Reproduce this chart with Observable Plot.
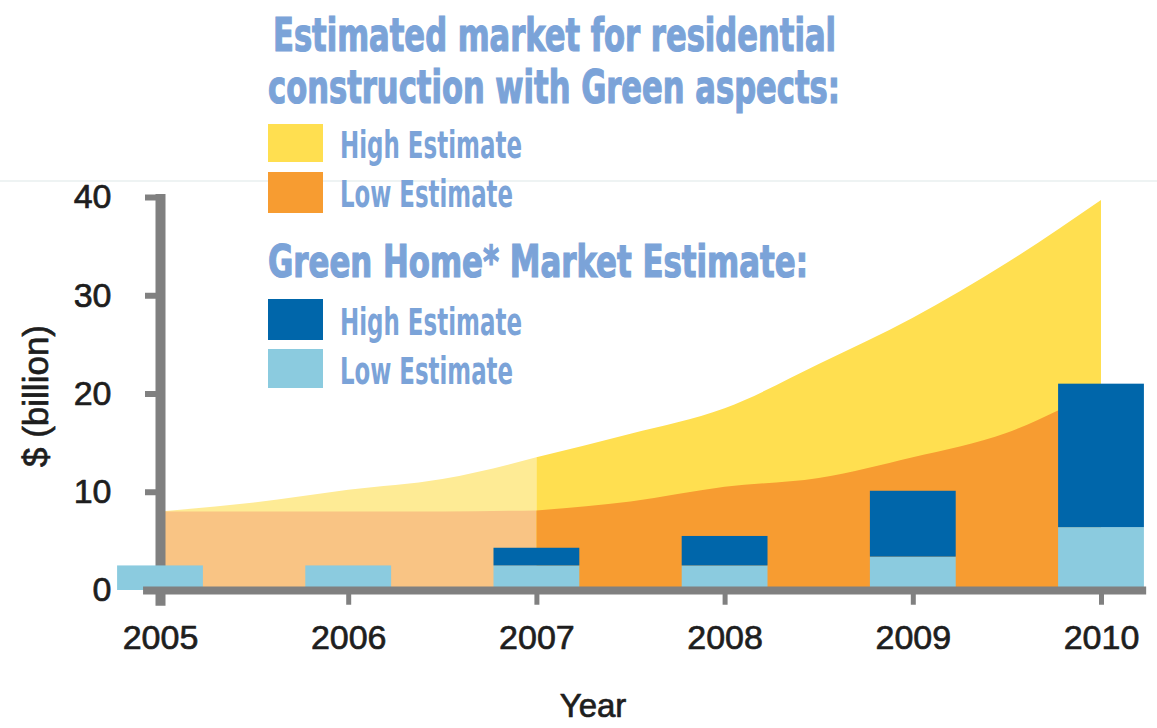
<!DOCTYPE html>
<html>
<head>
<meta charset="utf-8">
<script src="https://cdn.jsdelivr.net/npm/d3@7"></script>
<script src="https://cdn.jsdelivr.net/npm/@observablehq/plot@0.6"></script>
<style>
  body { margin: 0; background: #fff; }
  #wrap { position: relative; width: 1157px; height: 728px; overflow: hidden; }
  #chart { position: absolute; left: 0; top: 0; }
  .hline { position: absolute; left: 0; top: 180px; width: 1157px; height: 2px; background: #eef3f3; }
  .lg { position: absolute; font-family: "Liberation Sans Narrow", "DejaVu Sans Condensed", "Liberation Sans", sans-serif;
        color: #7ba3d8; line-height: 1; white-space: nowrap; transform-origin: 0 0; font-weight: bold; }
  .hd { font-size: 46px; -webkit-text-stroke: 1.2px #7ba3d8; }
  .it { font-size: 37px; }
  .sw { position: absolute; width: 55px; }
</style>
</head>
<body>
<div id="wrap">
  <div class="hline"></div>
  <div id="chart"></div>
  <div class="lg hd" data-w="563" style="left:273px; top:12px;">Estimated market for residential</div>
  <div class="lg hd" data-w="572" style="left:268px; top:64px;">construction with Green aspects:</div>
  <div class="sw" style="left:268px; top:124px; height:38px; background:#ffdf50;"></div>
  <div class="lg it" data-w="182" style="left:340px; top:127px;">High Estimate</div>
  <div class="sw" style="left:268px; top:172px; height:41px; background:#f79c31;"></div>
  <div class="lg it" data-w="173" style="left:340px; top:176px;">Low Estimate</div>
  <div class="lg hd" data-w="540" style="left:268px; top:239px; font-size:45px;">Green Home* Market Estimate:</div>
  <div class="sw" style="left:268px; top:299px; height:41px; background:#0066aa;"></div>
  <div class="lg it" data-w="182" style="left:340px; top:304px;">High Estimate</div>
  <div class="sw" style="left:268px; top:349px; height:39px; background:#8bcbdf;"></div>
  <div class="lg it" data-w="173" style="left:340px; top:353px;">Low Estimate</div>
</div>
<script>
// ---- data ----
const years = [2005, 2006, 2007, 2008, 2009, 2010];
const greenLow = [2.5, 2.5, 2.5, 2.5, 3.4, 6.4];
const greenHigh = [null, null, 4.3, 5.5, 10.1, 21.0];
const areaYears = [2005, 2005.5, 2006, 2006.5, 2007, 2007.5, 2008, 2008.5, 2009, 2009.5, 2010];
const resHigh = [8.0, 8.9, 10.2, 11.3, 13.5, 15.9, 18.5, 23.0, 27.7, 33.3, 39.7];
const resLow  = [8.0, 8.0, 8.0, 8.0, 8.1, 9.0, 10.5, 11.4, 13.5, 16.0, 20.5];
const yTicks = [0, 10, 20, 30, 40];
const xTicks = years;

// ---- tables ----
const area = areaYears.map((year, i) => ({year, high: resHigh[i], low: resLow[i]}));
const areaEarly = area.filter(d => d.year <= 2007);
const areaLate = area.filter(d => d.year >= 2007);
const bars = years.map((year, i) => ({year, low: greenLow[i], high: greenHigh[i]}));
const barsHigh = bars.filter(d => d.high != null);
const half = 0.228;
const gray = "#808080";
const ink = "#1e1e1e";

const chart = Plot.plot({
  width: 1157,
  height: 728,
  marginLeft: 160,
  marginRight: 56,
  marginTop: 197,
  marginBottom: 138,
  style: {fontFamily: "'Liberation Sans', Arial, sans-serif", background: "transparent", overflow: "visible"},
  x: {domain: [2005, 2010]},
  y: {domain: [0, 40]},
  marks: [
    Plot.areaY(areaEarly, {x: "year", y1: 0, y2: "high", fill: "#feeb95", curve: "monotone-x"}),
    Plot.areaY(areaEarly, {x: "year", y1: 0, y2: "low", fill: "#f9c484", curve: "monotone-x"}),
    Plot.areaY(areaLate, {x: "year", y1: 0, y2: "high", fill: "#ffdf50", curve: "monotone-x"}),
    Plot.areaY(areaLate, {x: "year", y1: 0, y2: "low", fill: "#f79c31", curve: "monotone-x"}),
    Plot.axisY({ticks: yTicks, tickSize: 15, tickPadding: 34, stroke: gray, strokeWidth: 6,
                fill: ink, fontSize: 34, textStroke: ink, textStrokeWidth: 0.7, label: null}),
    Plot.ruleX([years[0]], {y1: -1.6, y2: 40.3, stroke: gray, strokeWidth: 10}),
    Plot.rectY(bars, {x1: d => d.year - half, x2: d => d.year + half, y1: 0, y2: "low", fill: "#8bcbdf"}),
    Plot.rectY(barsHigh, {x1: d => d.year - half, x2: d => d.year + half, y1: "low", y2: "high", fill: "#0066aa"}),
    Plot.ruleX(xTicks.slice(1), {y1: -1.5, y2: 0, stroke: gray, strokeWidth: 5}),
    Plot.ruleY([0], {x1: years[0] - 0.09, x2: years[years.length - 1] + 0.24, stroke: gray, strokeWidth: 8}),
    Plot.axisX({ticks: xTicks, tickFormat: d => String(d), tickSize: 0, tickPadding: 34,
                fill: ink, fontSize: 34, textStroke: ink, textStrokeWidth: 0.7, label: null}),
    Plot.text(["Year"], {frameAnchor: "bottom", lineAnchor: "middle", textAnchor: "middle", dy: 116, dx: -38,
                         fontSize: 33, fill: ink, stroke: ink, strokeWidth: 0.7}),
    Plot.text(["$ (billion)"], {frameAnchor: "left", lineAnchor: "middle", textAnchor: "middle", rotate: -90, dx: -124, dy: 2,
                         fontSize: 35, fill: ink, stroke: ink, strokeWidth: 0.7})
  ]
});
document.getElementById("chart").appendChild(chart);

// fit legend text widths
document.querySelectorAll(".lg").forEach(el => {
  const w = el.getBoundingClientRect().width;
  const target = +el.dataset.w;
  el.style.transform = `scaleX(${target / w})`;
});
</script>
</body>
</html>
